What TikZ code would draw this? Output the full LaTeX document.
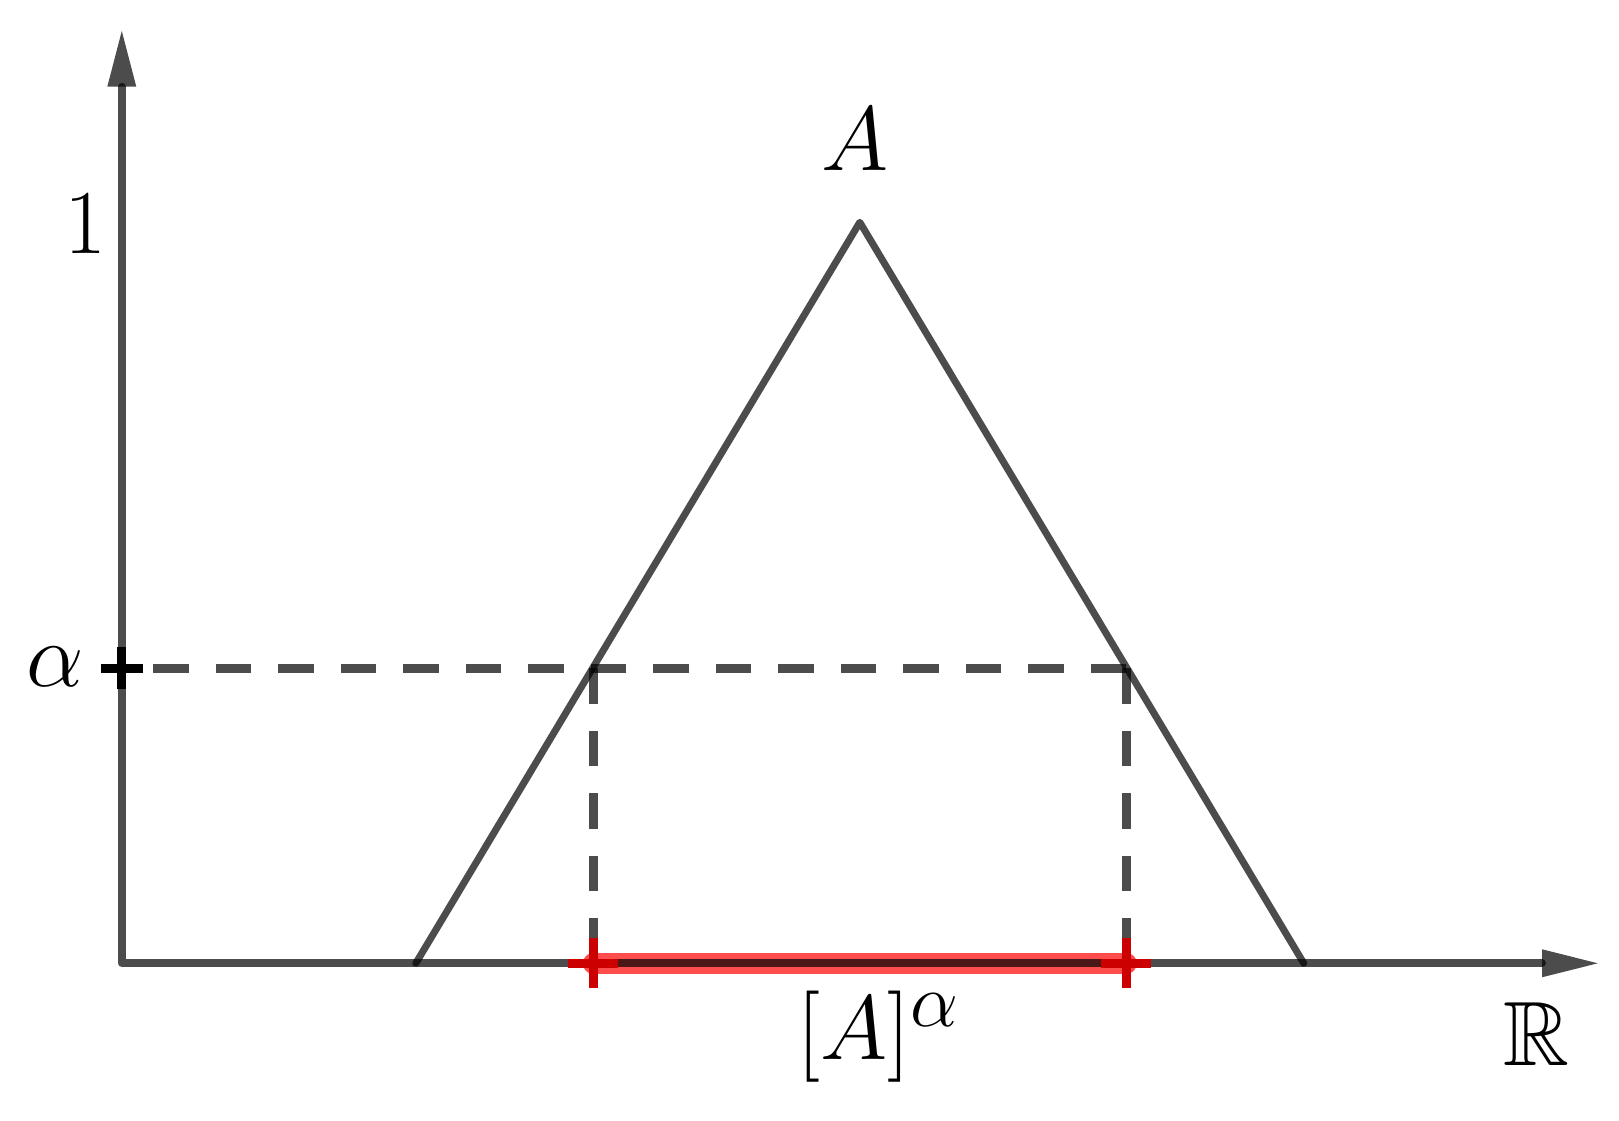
\documentclass[tikz,border=0pt]{standalone}
\usepackage{amssymb}
\definecolor{cutred}{RGB}{204,0,0}

\tikzset{
  ax/.style={black, draw opacity=0.7, line width=0.077cm, line cap=round, line join=round},
  tip/.style={black, fill opacity=0.7},
  curve/.style={black, draw opacity=0.7, line width=0.07cm, line cap=round, line join=round},
  cutline/.style={black, draw opacity=0.7, line width=0.085cm, dash pattern=on 0.355cm off 0.27cm},
  band/.style={red, draw opacity=0.7, line width=0.21cm, line cap=round},
  lbl/.style={font=\Huge, scale=1.045, transform shape, inner sep=0pt, anchor=base},
}

\begin{document}
\begin{tikzpicture}
  % frame of the image
  \useasboundingbox (-1.218,-1.577) rectangle (14.972,9.633);

  % points of the plot
  \coordinate (O) at (0,0);
  \coordinate (ybase) at (0,8.766);
  \coordinate (xbase) at (14.202,0);
  \coordinate (left) at (2.94,0);
  \coordinate (top) at (7.38,7.41);
  \coordinate (right) at (11.82,0);
  \coordinate (lev) at (0,2.95);
  \coordinate (cutL) at (4.715,2.95);
  \coordinate (cutR) at (10.045,2.95);
  \coordinate (footL) at (4.715,0);
  \coordinate (footR) at (10.045,0);

  % alpha-cut on the axis
  \draw[band] (footL) -- (footR);

  % axes
  \draw[ax] (ybase) -- (O) -- (xbase);
  \fill[tip] (0,9.323) -- (-0.145,8.766) -- (0.145,8.766) -- cycle;
  \fill[tip] (14.76,0) -- (14.202,0.14) -- (14.202,-0.14) -- cycle;

  % triangular fuzzy number
  \draw[curve] (left) -- (top) -- (right);

  % level alpha
  \draw[cutline] (cutR) -- (lev);
  \draw[cutline] (cutL) -- (footL);
  \draw[cutline] (cutR) -- (footR);

  % marks
  \draw[black, line width=0.09cm] (lev) ++(-0.21,0) -- ++(0.42,0) (lev) ++(0,-0.21) -- ++(0,0.42);
  \draw[cutred, line width=0.093cm] (footL) ++(-0.25,0) -- ++(0.5,0) (footL) ++(0,-0.25) -- ++(0,0.5);
  \draw[cutred, line width=0.093cm] (footR) ++(-0.25,0) -- ++(0.5,0) (footR) ++(0,-0.25) -- ++(0,0.5);

  % labels
  \node[lbl] (one) at (-0.368,7.10) {$1$};
  \node[lbl] (Aname) at (7.33,7.93) {$A$};
  \node[lbl] (alpha) at (-0.668,2.766) {$\alpha$};
  \node[lbl] (cut) at (7.57,-0.967) {$[A]^\alpha$};
  \node[lbl] (reals) at (14.15,-1.027) {$\mathbb{R}$};
\end{tikzpicture}
\end{document}
